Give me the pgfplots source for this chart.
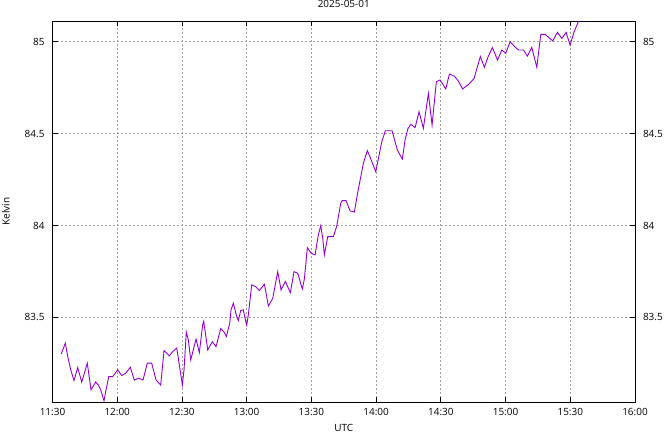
\documentclass[border=0pt]{standalone}
\usepackage{pgfplots}
\pgfplotsset{compat=1.18}
\usepackage{fontspec}
\setmainfont{Open Sans}
\definecolor{gpviolet}{HTML}{9400D3}
\definecolor{gridgray}{HTML}{A0A0A0}
\begin{document}
\fontsize{10}{12}\selectfont
\begin{tikzpicture}
\useasboundingbox (-52.5bp,-30bp) rectangle (611.5bp,402bp);
\begin{axis}[
  at={(0,0)}, anchor=south west,
  scale only axis, width=582.5bp, height=380.7bp,
  xmin=0, xmax=270, ymin=83.04, ymax=85.11,
  xtick={0,30,...,270},
  xticklabels={11:30,12:00,12:30,13:00,13:30,14:00,14:30,15:00,15:30,16:00},
  ytick={83.5,84,84.5,85},
  yticklabels={83.5,84,84.5,85},
  tick align=inside,
  major tick length=5bp,
  axis line style={black, line width=0.8bp},
  every tick/.style={black, line width=0.8bp},
  grid=major,
  major grid style={gridgray, dash pattern=on 2bp off 2bp, line width=0.8bp},
  xticklabel style={yshift=-2.5bp},
  yticklabel style={xshift=-4.5bp},
  title={2025-05-01},
  title style={at={(axis description cs:0.5,1.0205)}, anchor=base, inner sep=0pt},
  xlabel={UTC},
  xlabel style={at={(axis description cs:0.5,-0.0762)}, anchor=base, inner sep=0pt},
  ylabel={Kelvin},
  ylabel style={at={(axis description cs:-0.0798,0.5)}, anchor=center, inner sep=0pt},
]
\addplot[gpviolet, line width=0.9bp, mark=none] coordinates {
(4.08,83.302) (5.19,83.336) (5.93,83.360) (7.19,83.280) (8.44,83.215)
(9.97,83.157) (11.68,83.227) (13.54,83.148) (16.13,83.251) (17.85,83.106)
(20.03,83.149) (21.23,83.132) (22.35,83.106) (23.88,83.046) (24.66,83.097)
(26.05,83.178) (27.91,83.178) (30.23,83.215) (32.08,83.184) (33.94,83.197)
(36.07,83.229) (37.92,83.159) (39.78,83.170) (41.96,83.160) (43.95,83.251)
(45.99,83.251) (47.98,83.160) (50.16,83.132) (51.69,83.320) (54.15,83.291)
(55.72,83.314) (57.58,83.334) (58.78,83.242) (60.18,83.133) (60.96,83.215)
(62.03,83.420) (62.96,83.378) (64.07,83.269) (66.53,83.382) (68.06,83.309)
(69.63,83.461) (70.10,83.479) (71.95,83.323) (74.08,83.368) (75.80,83.341)
(77.98,83.439) (79.51,83.421) (80.58,83.396) (82.15,83.468) (82.75,83.541)
(83.82,83.577) (85.40,83.504) (86.14,83.483) (87.25,83.537) (88.46,83.541)
(89.57,83.477) (90.03,83.458) (90.77,83.514) (92.35,83.677) (94.21,83.667)
(95.87,83.646) (98.19,83.680) (99.30,83.613) (100.05,83.562) (102.09,83.604)
(104.40,83.749) (105.94,83.649) (107.93,83.695) (110.25,83.635) (111.96,83.749)
(113.68,83.740) (115.21,83.677) (115.81,83.655) (116.74,83.708) (118.13,83.879)
(119.84,83.849) (121.70,83.840) (123.23,83.948) (124.34,83.999) (125.27,83.930)
(126.01,83.840) (127.59,83.939) (130.18,83.939) (131.76,83.997) (133.61,84.121)
(134.22,84.135) (136.07,84.135) (137.92,84.079) (139.92,84.073) (141.41,84.175)
(144.09,84.338) (145.94,84.407) (147.89,84.351) (149.84,84.292) (152.62,84.455)
(154.29,84.515) (157.40,84.515) (159.85,84.410) (162.17,84.361) (163.42,84.465)
(164.67,84.524) (166.06,84.550) (168.06,84.532) (169.91,84.618) (171.91,84.528)
(174.22,84.718) (175.94,84.546) (177.93,84.782) (179.65,84.791) (182.29,84.742)
(183.96,84.823) (186.28,84.812) (188.13,84.785) (190.08,84.742) (192.77,84.766)
(195.41,84.799) (196.66,84.851) (198.29,84.918) (200.19,84.860) (201.90,84.917)
(203.89,84.967) (206.30,84.899) (208.25,84.954) (210.10,84.936) (212.10,84.999)
(214.00,84.975) (215.95,84.954) (218.26,84.954) (220.12,84.921) (222.16,84.968)
(224.48,84.860) (226.33,85.039) (228.33,85.039) (231.90,85.003) (234.03,85.050)
(236.07,85.017) (238.06,85.050) (239.92,84.981) (241.77,85.053) (243.76,85.108)
(245.00,85.144)
};
\end{axis}
\begin{axis}[
  at={(0,0)}, anchor=south west,
  scale only axis, width=582.5bp, height=380.7bp,
  xmin=0, xmax=270, ymin=83.04, ymax=85.11,
  axis x line=none,
  axis y line*=right,
  axis line style={black, line width=0.8bp},
  ytick={83.5,84,84.5,85},
  yticklabels={83.5,84,84.5,85},
  major tick length=0pt,
  yticklabel style={xshift=4.5bp},
]
\end{axis}
\end{tikzpicture}
\end{document}
